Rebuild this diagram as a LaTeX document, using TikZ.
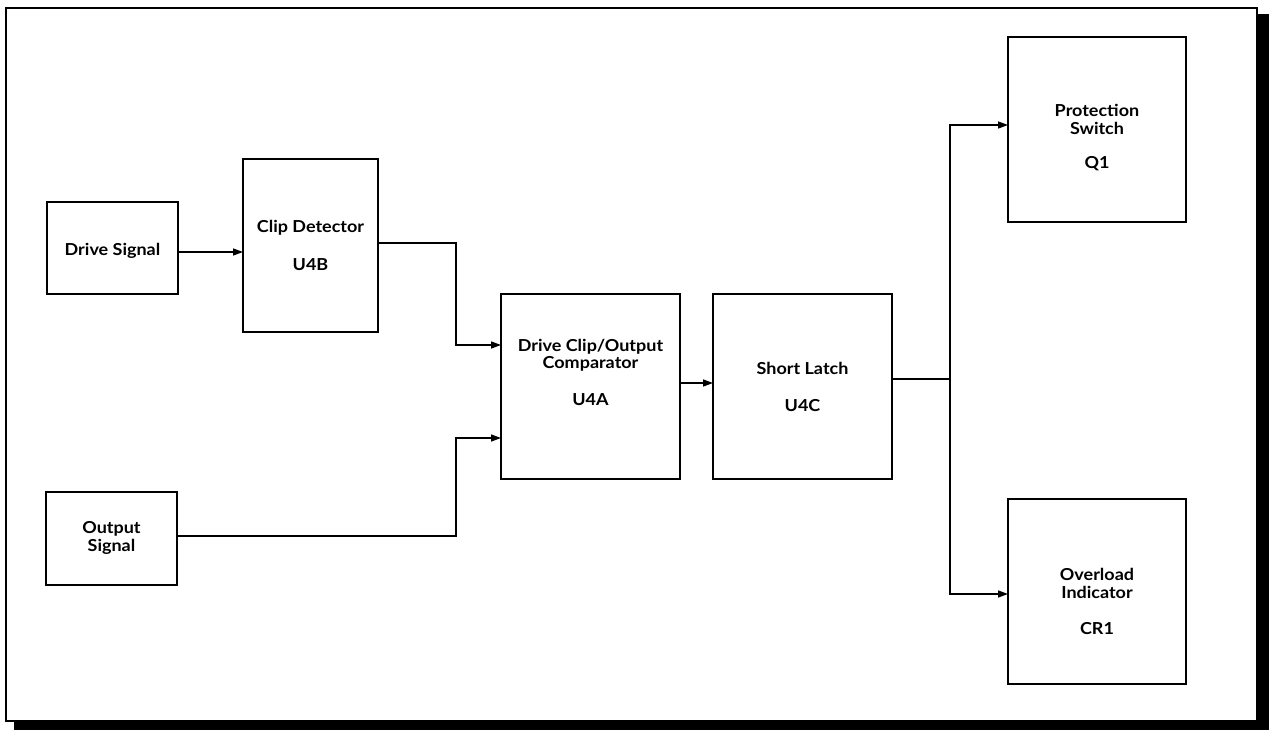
\documentclass[tikz,border=0pt]{standalone}
\usepackage{fontspec}
\setmainfont[FakeStretch=1.09]{Lato}
\usetikzlibrary{arrows.meta}
\begin{document}
\begin{tikzpicture}[x=1pt,y=-1pt,
  blk/.style={draw=black,line width=1.3pt,inner sep=0pt,outer sep=0pt,rectangle},
  lbl/.style={anchor=base,inner sep=0pt,font=\fontsize{16.5}{18}\selectfont\bfseries},
  wire/.style={line width=1.3pt},
  arr/.style={wire,-{Triangle[length=10pt,width=7pt]}}]
\useasboundingbox (0,0) rectangle (1269,730);
% frame with shadow
\fill[black] (14,14) rectangle (1269,730);
\draw[fill=white,line width=2.2pt] (6,8) rectangle (1257,721);
% boxes
\node[blk,minimum width=131pt,minimum height=92pt] (ds) at (112.5,248) {};
\node[blk,minimum width=135pt,minimum height=173pt] (cd) at (310.5,245.5) {};
\node[blk,minimum width=131pt,minimum height=93pt] (os) at (111.5,538.5) {};
\node[blk,minimum width=179pt,minimum height=185pt] (cmp) at (590.5,386.5) {};
\node[blk,minimum width=179pt,minimum height=185pt] (sl) at (802.5,386.5) {};
\node[blk,minimum width=178pt,minimum height=185pt] (ps) at (1097,129.5) {};
\node[blk,minimum width=178pt,minimum height=185pt] (ol) at (1097,591.5) {};
% labels
\node[lbl] (dsl) at (112.5,255) {Drive Signal};
\node[lbl] (cdl) at (310.5,233) {Clip Detector};
\node[lbl] (cdi) at (310.5,270) {U4B};
\node[lbl] (osl1) at (111.5,533) {Output};
\node[lbl] (osl2) at (111.5,551) {Signal};
\node[lbl] (cmpl1) at (590.5,351) {Drive Clip/Output};
\node[lbl] (cmpl2) at (590.5,368) {Comparator};
\node[lbl] (cmpi) at (590.5,405) {U4A};
\node[lbl] (sll) at (802.5,374) {Short Latch};
\node[lbl] (sli) at (802.5,411) {U4C};
\node[lbl] (psl1) at (1097,117) {Protection};
\node[lbl] (psl2) at (1097,135) {Switch};
\node[lbl] (psi) at (1097,169) {Q1};
\node[lbl] (oll1) at (1097,580) {Overload};
\node[lbl] (oll2) at (1097,598) {Indicator};
\node[lbl] (oli) at (1097,634) {CR1};
% connectors
\draw[arr] ([yshift=-4pt]ds.east) -- ([yshift=-4pt]ds.east -| cd.west);
\draw[arr] ([yshift=2.5pt]cd.east) -- ++(78,0) |- ([yshift=41.5pt]cmp.west);
\draw[arr] ([yshift=2.5pt]os.east) -- ++(279,0) |- ([yshift=-51.5pt]cmp.west);
\draw[arr] ([yshift=3.5pt]cmp.east) -- ([yshift=3.5pt]sl.west);
\coordinate (j) at (950,379);
\draw[wire] ([yshift=7.5pt]sl.east) -- (j);
\draw[arr] (j) |- ([yshift=4.5pt]ps.west);
\draw[arr] (j) |- ([yshift=-2.5pt]ol.west);
\end{tikzpicture}
\end{document}
